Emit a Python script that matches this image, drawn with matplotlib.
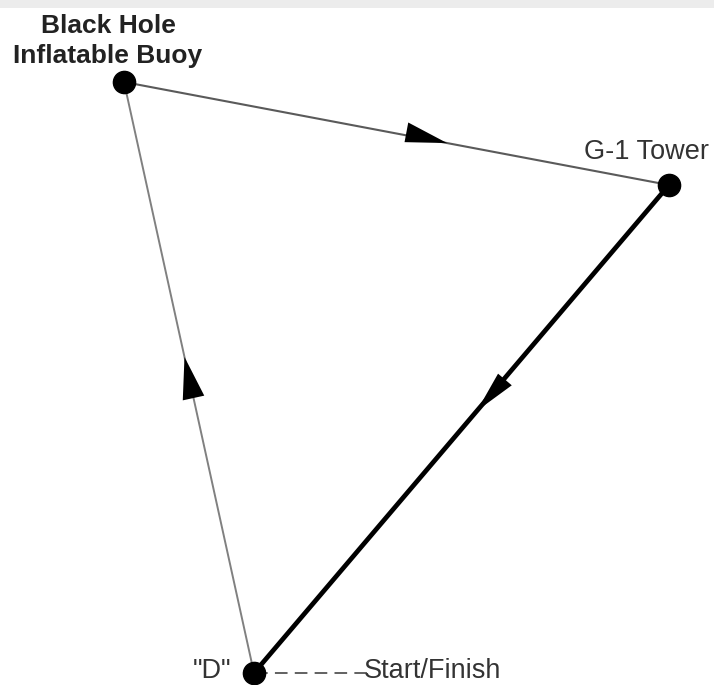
import numpy as np
import matplotlib.pyplot as plt
from matplotlib.patches import Polygon, Rectangle

# course marks (pixel positions, y downward)
marcas = ['Black Hole\nInflatable Buoy', 'G-1 Tower', '"D"']
mx = [124, 669, 254]
my = [82, 185, 673]

# legs: (from, to, arrow position along leg, color, width, arrow widths)
tramos = [(0, 1, 0.555, '#5a5a5a', 1.5, (13, 7)),
          (1, 2, 0.43, 'black', 3.4, (10, 8)),
          (2, 0, 0.50, '#808080', 1.4, (11, 11))]


def flecha(ax, p0, p1, f, anchos, largo=42):
    p0 = np.array(p0, float)
    p1 = np.array(p1, float)
    u = (p1 - p0) / np.linalg.norm(p1 - p0)
    n = np.array([u[1], -u[0]])
    punta = p0 + f * (p1 - p0) + u * largo / 2
    base = punta - u * largo
    tri = [punta, base + n * anchos[0], base - n * anchos[1]]
    ax.add_patch(Polygon(tri, closed=True, color='black', lw=0, zorder=3))


def main():
    fig = plt.figure(figsize=(7.14, 6.85), dpi=100)
    ax = fig.add_axes([0, 0, 1, 1])
    ax.set_xlim(0, 714)
    ax.set_ylim(685, 0)
    ax.axis('off')

    # strip at the top edge
    ax.add_patch(Rectangle((0, 0), 714, 8, color='#ececec', lw=0))

    for i, j, f, c, w, anchos in tramos:
        ax.plot([mx[i], mx[j]], [my[i], my[j]], color=c, lw=w, zorder=2,
                solid_capstyle='round')
        flecha(ax, (mx[i], my[i]), (mx[j], my[j]), f, anchos)

    ax.plot(mx, my, 'o', color='black', ms=16, zorder=4)

    # start/finish line (drawn from the text back to the mark)
    ax.plot([367, mx[2] + 10], [my[2], my[2]], color='#555555', lw=1.3,
            ls=(0, (7, 4)), zorder=1)

    fuente = ['Liberation Sans', 'DejaVu Sans']
    ax.text(108, 41, marcas[0], ha='center', va='center', fontsize=19,
            fontweight='bold', color='#222222', family=fuente, linespacing=1.3)
    ax.text(647, 152, marcas[1], ha='center', va='center', fontsize=19.5,
            color='#333333', family=fuente)
    ax.text(212, 671, marcas[2], ha='center', va='center', fontsize=19.5,
            color='#333333', family=fuente)
    ax.text(364, 671, 'Start/Finish', ha='left', va='center', fontsize=19.5,
            color='#333333', family=fuente)

    fig.savefig('out.png', dpi=100)


if __name__ == "__main__":
    main()
